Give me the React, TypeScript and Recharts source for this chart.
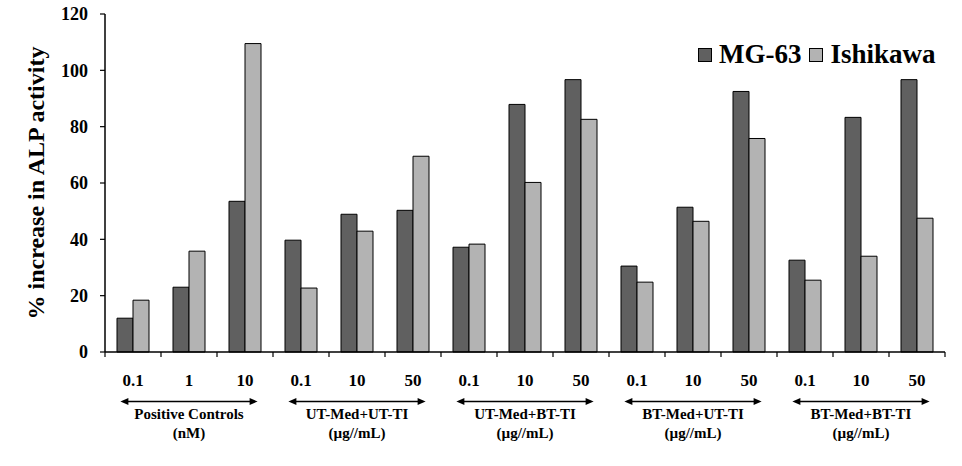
import React from "react";
import { BarChart, Bar, XAxis, YAxis, Legend } from "recharts";

const doses = ["0.1", "1", "10", "0.1", "10", "50", "0.1", "10", "50", "0.1", "10", "50", "0.1", "10", "50"];
const groupNames = ["Positive Controls", "UT-Med+UT-TI", "UT-Med+BT-TI", "BT-Med+UT-TI", "BT-Med+BT-TI"];
const groupUnits = ["(nM)", "(\u00b5g//mL)", "(\u00b5g//mL)", "(\u00b5g//mL)", "(\u00b5g//mL)"];
const mg63 = [12.0, 23.0, 53.5, 39.7, 48.9, 50.3, 37.2, 87.9, 96.7, 30.5, 51.4, 92.5, 32.6, 83.3, 96.7];
const ishikawa = [18.4, 35.8, 109.5, 22.7, 42.9, 69.5, 38.3, 60.2, 82.6, 24.8, 46.4, 75.8, 25.5, 34.0, 47.5];
const yTicks = [0, 20, 40, 60, 80, 100, 120];

const data = doses.map((dose, i) => ({ dose, mg63: mg63[i], ishikawa: ishikawa[i] }));

const FONT = "'Liberation Serif', 'Times New Roman', serif";
const DARK = "#606060";
const LIGHT = "#b3b3b3";

function DoseTick(props: any) {
  const { x, y, payload } = props;
  const index = props.index ?? payload.index ?? 0;
  const half = payload.offset || 28;
  const isMiddle = index % 3 === 1;
  const group = Math.floor(index / 3);
  const arrowY = y + 49.5;
  const span = half * 2.45;
  return (
    <g>
      <line x1={x - half} y1={y} x2={x - half} y2={y + 5} stroke="#000" strokeWidth={1.2} />
      {index === doses.length - 1 && (
        <line x1={x + half} y1={y} x2={x + half} y2={y + 5} stroke="#000" strokeWidth={1.2} />
      )}
      <text x={x} y={y + 34} textAnchor="middle" fontFamily={FONT} fontWeight="bold" fontSize={17} fill="#000">
        {payload.value}
      </text>
      {isMiddle && (
        <g>
          <line x1={x - span + 6} y1={arrowY} x2={x + span - 6} y2={arrowY} stroke="#000" strokeWidth={1.5} />
          <polygon points={`${x - span},${arrowY} ${x - span + 8},${arrowY - 3.5} ${x - span + 8},${arrowY + 3.5}`} fill="#000" />
          <polygon points={`${x + span},${arrowY} ${x + span - 8},${arrowY - 3.5} ${x + span - 8},${arrowY + 3.5}`} fill="#000" />
          <text x={x} y={y + 67} textAnchor="middle" fontFamily={FONT} fontWeight="bold" fontSize={15} fill="#000">
            {groupNames[group]}
          </text>
          <text x={x} y={y + 86} textAnchor="middle" fontFamily={FONT} fontWeight="bold" fontSize={15} fill="#000">
            {groupUnits[group]}
          </text>
        </g>
      )}
    </g>
  );
}

function YTitle(props: any) {
  const vb = props.viewBox || { x: 0, y: 14, height: 338 };
  const cx = vb.x + 44;
  const cy = vb.y + vb.height / 2;
  return (
    <text
      x={cx}
      y={cy}
      transform={`rotate(-90, ${cx}, ${cy})`}
      textAnchor="middle"
      fontFamily={FONT}
      fontWeight="bold"
      fontSize={24}
      fill="#000"
    >
      % increase in ALP activity
    </text>
  );
}

function LegendBox() {
  const item = (color: string, label: string) => (
    <div style={{ display: "flex", alignItems: "center", marginRight: 8 }}>
      <div style={{ width: 12, height: 12, background: color, border: "1px solid #000", marginRight: 7 }} />
      <span style={{ fontFamily: FONT, fontWeight: "bold", fontSize: 27, color: "#000", lineHeight: "27px" }}>{label}</span>
    </div>
  );
  return (
    <div style={{ display: "flex", alignItems: "center" }}>
      {item(DARK, "MG-63")}
      {item(LIGHT, "Ishikawa")}
    </div>
  );
}

export default function App() {
  return (
    <div style={{ position: "absolute", left: 0, top: 0, background: "#fff" }}>
      <BarChart
        width={962}
        height={466}
        data={data}
        margin={{ top: 14, right: 17, bottom: 14, left: 0 }}
        barCategoryGap={12}
        barGap={0}
      >
        <XAxis
          dataKey="dose"
          height={100}
          tickLine={false}
          tickSize={0}
          tickMargin={0}
          interval={0}
          axisLine={{ stroke: "#000", strokeWidth: 1.5 }}
          tick={<DoseTick />}
        />
        <YAxis
          width={105}
          domain={[0, 120]}
          ticks={yTicks}
          tickSize={5}
          tickMargin={12}
          axisLine={{ stroke: "#000", strokeWidth: 1.5 }}
          tickLine={{ stroke: "#000", strokeWidth: 1.2 }}
          tick={{ fontFamily: FONT, fontWeight: "bold", fontSize: 18, fill: "#000" }}
          label={<YTitle />}
        />
        <Legend
          layout="horizontal"
          verticalAlign="middle"
          align="center"
          content={<LegendBox />}
          wrapperStyle={{ top: 41, left: 698, width: 262 }}
        />
        <Bar dataKey="mg63" name="MG-63" fill={DARK} stroke="#000" strokeWidth={1} isAnimationActive={false} />
        <Bar dataKey="ishikawa" name="Ishikawa" fill={LIGHT} stroke="#000" strokeWidth={1} isAnimationActive={false} />
      </BarChart>
    </div>
  );
}
